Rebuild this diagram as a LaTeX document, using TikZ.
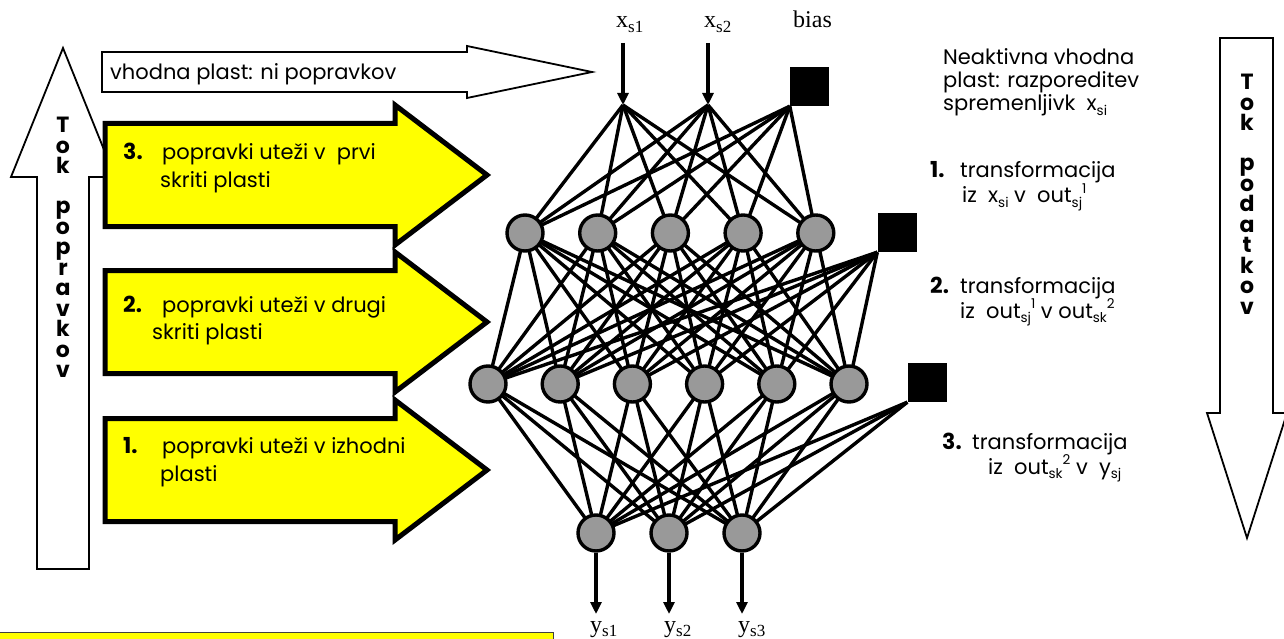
\documentclass[tikz,border=0pt]{standalone}
\usepackage{fontspec}
\setmainfont{Liberation Serif}
\newfontfamily\hand{Poppins}
\usetikzlibrary{arrows.meta,backgrounds}
\definecolor{neurongray}{RGB}{153,153,153}
\definecolor{hiyellow}{RGB}{255,255,0}
% lowered / raised indices inside the handwritten-style notes
\newcommand\lowtxt[1]{\raisebox{-0.35ex}{\fontsize{13.5}{13.5}\selectfont #1}}
\newcommand\hightxt[1]{\raisebox{0.8ex}{\fontsize{13.5}{13.5}\selectfont #1}}
% index for the serif input/output labels
\newcommand\serifsub[1]{\raisebox{-0.45ex}{\fontsize{17}{17}\selectfont #1}}

\begin{document}
\begin{tikzpicture}[x=1pt,y=-1pt,
  edge/.style={line width=3.4pt},
  neuron/.style={circle,draw,line width=3.4pt,fill=neurongray,minimum size=36pt,inner sep=0pt},
  biasbox/.style={fill=black,minimum size=39pt,inner sep=0pt},
  flow/.style={line width=3.5pt,-{Triangle[width=11pt,length=12pt]}},
  corrarrow/.style={draw,line width=5pt,fill=hiyellow,miter limit=20},
  hollowarrow/.style={draw,line width=1.8pt,fill=white},
  lbl/.style={font=\fontsize{24}{24}\selectfont,inner sep=0pt,anchor=base west},
  note/.style={font=\hand\fontsize{21}{21}\selectfont,inner sep=0pt,anchor=base west},
  num/.style={font=\hand\bfseries\fontsize{22}{22}\selectfont,inner sep=0pt,anchor=base west},
  spell/.style={font=\hand\bfseries\fontsize{22}{20.5}\selectfont,inner sep=0pt,align=center,anchor=north}
]
\useasboundingbox (0,0) rectangle (1284,639);

% ---- big flow arrows at the sides ----
\draw[hollowarrow] (37,569) -- (37,177) -- (11,177) -- (63,48) -- (115,177) -- (89,177) -- (89,569) -- cycle;
\node[spell] (leftword) at (63,117) {T\\o\\k\\[19.5pt]p\\o\\p\\r\\a\\v\\k\\o\\v};

\draw[hollowarrow] (1220,38) -- (1273,38) -- (1273,413) -- (1287,413) -- (1247,538) -- (1207,413) -- (1220,413) -- cycle;
\node[spell] (rightword) at (1247,74) {T\\o\\k\\[19.5pt]p\\o\\d\\a\\t\\k\\o\\v};

% ---- input layer note arrow ----
\draw[hollowarrow] (102,52) -- (467,52) -- (467,46) -- (592,72) -- (467,98) -- (467,92) -- (102,92) -- cycle;
\node[note] (inputnote) at (110,80) {vhodna plast: ni popravkov};

% ---- yellow correction arrows ----
\foreach \c in {175,322,470}
  \draw[corrarrow] (105,\c-51.5) -- (395,\c-51.5) -- (395,\c-70) -- (487,\c)
                   -- (395,\c+70) -- (395,\c+51.5) -- (105,\c+51.5) -- cycle;

\node[num] (n3) at (123,160) {3.};
\node[note] (c3a) at (162,160) {popravki uteži v\ \ prvi};
\node[note] (c3b) at (160,188) {skriti plasti};
\node[num] (n2) at (123,312) {2.};
\node[note] (c2a) at (162,312) {popravki uteži v drugi};
\node[note] (c2b) at (152,339) {skriti plasti};
\node[num] (n1) at (123,453) {1.};
\node[note] (c1a) at (162,453) {popravki uteži v izhodni};
\node[note] (c1b) at (160,481) {plasti};

% ---- bottom yellow box ----
\draw[fill=hiyellow,draw=black!75,line width=1pt] (-5,632) rectangle (553,650);

% ---- network ----
\coordinate (in1) at (623,105);
\coordinate (in2) at (708,105);
\coordinate (in1top) at (623,43);
\coordinate (in2top) at (708,43);
\node[biasbox] (b1) at (809.5,86.5) {};
\node[biasbox] (b2) at (897,232.5) {};
\node[biasbox] (b3) at (927,382.5) {};

\foreach \i/\x in {1/525,2/597.7,3/670.4,4/743.1,5/815.8}
  \node[neuron] (h\i) at (\x,233) {};
\foreach \i/\x in {1/488,2/560.2,3/632.4,4/704.6,5/776.8,6/849}
  \node[neuron] (g\i) at (\x,384) {};
\foreach \i/\x in {1/596,2/669,3/742}
  \node[neuron] (o\i) at (\x,533) {};

\begin{scope}[on background layer]
  \foreach \s in {in1,in2,b1.south west}
    \foreach \t in {1,...,5}
      \draw[edge] (\s) -- (h\t.center);
  \foreach \s in {h1,h2,h3,h4,h5}
    \foreach \t in {1,...,6}
      \draw[edge] (\s.center) -- (g\t.center);
  \foreach \t in {1,...,6}
    \draw[edge] (b2.south west) -- (g\t.center);
  \foreach \s in {g1,g2,g3,g4,g5,g6}
    \foreach \t in {1,2,3}
      \draw[edge] (\s.center) -- (o\t.center);
  \foreach \t in {1,2,3}
    \draw[edge] (b3.south west) -- (o\t.center);
\end{scope}

\draw[flow] (in1top) -- (in1);
\draw[flow] (in2top) -- (in2);
\foreach \i/\x in {1/596,2/669,3/742}{
  \coordinate (out\i) at (\x,614);
  \draw[flow] (o\i.south) -- (out\i);
}

\node[lbl] (xs1) at (616,28) {x\serifsub{s1}};
\node[lbl] (xs2) at (704,28) {x\serifsub{s2}};
\node[lbl] (biaslabel) at (793,28) {bias};
\node[lbl] (ys1) at (590,632) {y\serifsub{s1}};
\node[lbl] (ys2) at (664,632) {y\serifsub{s2}};
\node[lbl] (ys3) at (738,632) {y\serifsub{s3}};

% ---- layer notes on the right ----
\node[note] (r1) at (943,65) {Neaktivna vhodna};
\node[note] (r2) at (943,88) {plast: razporeditev};
\node[note] (r3) at (943,111) {spremenljivk\ \ x\lowtxt{si}};
\node[num] (t1n) at (930,178) {1.};
\node[note] (t1a) at (960,178) {transformacija};
\node[note] (t1b) at (962,203) {iz\ \ x\lowtxt{si} v\ \ out\lowtxt{sj}\hightxt{1}};
\node[num] (t2n) at (930,293) {2.};
\node[note] (t2a) at (960,293) {transformacija};
\node[note] (t2b) at (960,318) {iz\ \ out\lowtxt{sj}\hightxt{1} v out\lowtxt{sk}\hightxt{2}};
\node[num] (t3n) at (942,449) {3.};
\node[note] (t3a) at (972,449) {transformacija};
\node[note] (t3b) at (988,474) {iz\ \ out\lowtxt{sk}\hightxt{2} v\ \ y\lowtxt{sj}};
\end{tikzpicture}
\end{document}
